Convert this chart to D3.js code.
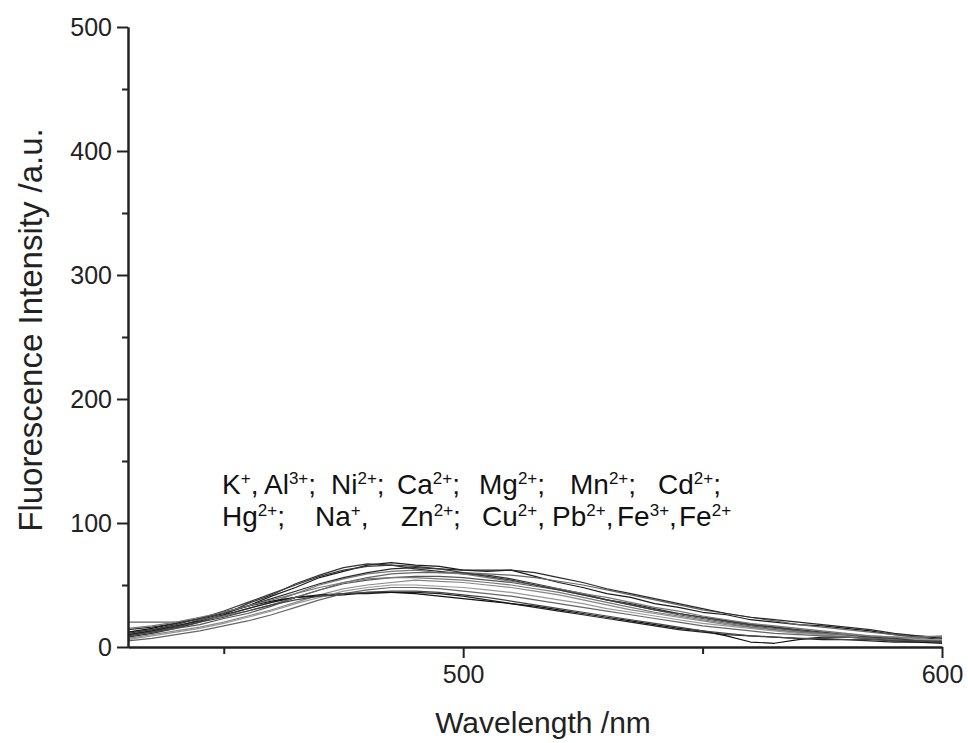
<!DOCTYPE html>
<html>
<head>
<meta charset="utf-8">
<script src="https://cdn.jsdelivr.net/npm/d3@7"></script>
<style>
  body { margin: 0; background: #fff; }
  text { font-family: "Liberation Sans", Arial, sans-serif; }
</style>
</head>
<body>
<div id="vis"></div>
<script>
const width = 968;
const height = 743;
const margin = { top: 27, right: 26, bottom: 96, left: 128 };

// wavelength sampling (nm)
const wavelengths = [430, 435, 440, 445, 450, 455, 460, 465, 470, 475, 480, 485,
    490, 495, 500, 505, 510, 515, 520, 525, 530, 535, 540, 545, 550, 555, 560,
    565, 570, 575, 580, 585, 590, 595, 600];

// one emission spectrum per metal ion
const spectra = [
    { ion: "K+",   color: "#1a1a1a", values: [10, 13, 16, 22, 27, 33, 41, 48, 56, 61, 66, 68, 66, 65, 62, 61, 62, 57, 52, 48, 43, 40, 35, 32, 28, 26, 22, 20, 18, 17, 15, 13, 10, 8, 6] },
    { ion: "Al3+", color: "#333",    values: [8, 11, 15, 20, 26, 35, 42, 51, 58, 64, 67, 66, 63, 61, 59, 58, 55, 51, 47, 43, 38, 35, 31, 27, 24, 21, 18, 16, 13, 11, 9, 8, 6, 5, 4] },
    { ion: "Ni2+", color: "#777",    values: [12, 14, 17, 21, 25, 31, 36, 43, 50, 55, 59, 61, 62, 60, 59, 56, 53, 50, 47, 43, 40, 36, 32, 29, 25, 22, 19, 17, 15, 13, 11, 9, 8, 7, 8] },
    { ion: "Ca2+", color: "#555",    values: [9, 12, 15, 18, 23, 27, 33, 40, 46, 51, 54, 56, 57, 57, 56, 54, 52, 49, 46, 42, 38, 34, 30, 26, 23, 20, 17, 15, 13, 11, 9, 8, 7, 6, 5] },
    { ion: "Mg2+", color: "#888",    values: [7, 10, 13, 16, 20, 25, 30, 36, 42, 47, 50, 52, 54, 53, 52, 50, 48, 45, 42, 38, 34, 30, 27, 24, 21, 18, 16, 14, 12, 10, 8, 7, 6, 5, 4] },
    { ion: "Mn2+", color: "#222",    values: [10, 13, 17, 21, 26, 31, 36, 40, 42, 43, 43, 44, 44, 43, 41, 38, 35, 32, 29, 26, 23, 20, 17, 14, 12, 10, 9, 8, 7, 6, 6, 5, 4, 4, 3] },
    { ion: "Cd2+", color: "#111",    values: [12, 15, 19, 23, 28, 33, 37, 40, 41, 42, 44, 44, 43, 41, 39, 37, 35, 33, 30, 27, 24, 21, 18, 15, 13, 9, 4, 3, 6, 8, 8, 7, 5, 4, 4] },
    { ion: "Hg2+", color: "#666",    values: [20, 20, 20, 22, 25, 29, 34, 40, 46, 52, 56, 59, 60, 60, 60, 59, 58, 56, 53, 50, 46, 42, 38, 34, 30, 27, 24, 21, 18, 16, 14, 12, 10, 9, 8] },
    { ion: "Na+",  color: "#2a2a2a", values: [14, 16, 19, 23, 28, 33, 39, 45, 51, 56, 60, 63, 64, 63, 62, 62, 62, 60, 56, 52, 47, 43, 39, 35, 31, 27, 24, 22, 20, 18, 16, 14, 11, 9, 7] },
    { ion: "Zn2+", color: "#999",    values: [6, 9, 12, 15, 19, 24, 29, 35, 40, 45, 48, 50, 50, 49, 48, 46, 44, 41, 38, 35, 31, 28, 25, 22, 19, 17, 15, 13, 11, 10, 9, 8, 7, 6, 6] },
    { ion: "Cu2+", color: "#666",    values: [5, 7, 10, 13, 17, 21, 26, 32, 38, 43, 46, 48, 48, 47, 45, 43, 41, 38, 35, 32, 29, 26, 23, 20, 17, 15, 13, 11, 10, 9, 8, 7, 6, 5, 5] },
    { ion: "Pb2+", color: "#3a3a3a", values: [11, 14, 18, 23, 29, 36, 43, 50, 57, 62, 65, 66, 65, 63, 60, 57, 54, 50, 46, 42, 38, 34, 30, 27, 24, 21, 18, 16, 14, 12, 10, 8, 7, 5, 4] },
    { ion: "Fe3+", color: "#777",    values: [15, 17, 20, 24, 28, 33, 38, 43, 48, 52, 55, 56, 56, 55, 54, 52, 50, 47, 44, 40, 36, 32, 28, 25, 22, 19, 16, 14, 12, 11, 10, 9, 8, 8, 9] },
    { ion: "Fe2+", color: "#444",    values: [9, 12, 16, 20, 24, 29, 34, 38, 41, 43, 44, 45, 45, 44, 42, 40, 37, 34, 31, 28, 25, 22, 19, 16, 13, 11, 9, 8, 7, 7, 6, 6, 5, 5, 4] }
];

const xMajor = [500, 600];
const xMinor = [450, 550];
const yMajor = [0, 100, 200, 300, 400, 500];
const yMinor = [50, 150, 250, 350, 450];

// annotation rows: [ion, charge, separator]
const ionRow1 = [["K", "+", ","], ["Al", "3+", ";"], ["Ni", "2+", ";"], ["Ca", "2+", ";"], ["Mg", "2+", ";"], ["Mn", "2+", ";"], ["Cd", "2+", ";"]];
const ionRow2 = [["Hg", "2+", ";"], ["Na", "+", ","], ["Zn", "2+", ";"], ["Cu", "2+", ","], ["Pb", "2+", ","], ["Fe", "3+", ","], ["Fe", "2+", ""]];
const ionRow1X = [222, 264, 331, 397, 479, 570, 658];
const ionRow2X = [222, 315, 401, 482, 552, 617, 679];

const x = d3.scaleLinear().domain([430, 600]).range([margin.left, width - margin.right]);
const y = d3.scaleLinear().domain([0, 500]).range([height - margin.bottom, margin.top]);

const svg = d3.select("#vis")
    .append("svg")
    .attr("width", width)
    .attr("height", height);

// spectra
const line = d3.line()
    .x((d, i) => x(wavelengths[i]))
    .y(d => y(d));

svg.append("g")
    .selectAll("path")
    .data(spectra)
    .enter().append("path")
    .attr("d", d => line(d.values))
    .attr("fill", "none")
    .attr("stroke", d => d.color)
    .attr("stroke-width", 1.2)
    .attr("stroke-linejoin", "round");

// axes
function styleAxis(g) {
    g.selectAll("path, line").attr("stroke", "#222").attr("stroke-width", 2);
    g.selectAll("text").attr("fill", "#222").style("font-size", "25px")
        .style("font-family", "'Liberation Sans', Arial, sans-serif");
}

svg.append("g")
    .attr("transform", `translate(0,${y(0)})`)
    .call(d3.axisBottom(x).tickValues(xMajor).tickSize(11).tickSizeOuter(0).tickPadding(7))
    .call(styleAxis);

svg.append("g")
    .attr("transform", `translate(0,${y(0)})`)
    .call(d3.axisBottom(x).tickValues(xMinor).tickSize(7).tickFormat("").tickSizeOuter(0))
    .call(styleAxis);

svg.append("g")
    .attr("transform", `translate(${x(430)},0)`)
    .call(d3.axisLeft(y).tickValues(yMajor).tickSize(11).tickSizeOuter(0).tickPadding(5))
    .call(styleAxis);

svg.append("g")
    .attr("transform", `translate(${x(430)},0)`)
    .call(d3.axisLeft(y).tickValues(yMinor).tickSize(6).tickFormat("").tickSizeOuter(0))
    .call(styleAxis);

// axis titles
svg.append("text")
    .attr("x", 543)
    .attr("y", 733)
    .attr("text-anchor", "middle")
    .attr("fill", "#222")
    .style("font-size", "30px")
    .text("Wavelength /nm");

svg.append("text")
    .attr("transform", "translate(42,330) rotate(-90)")
    .attr("text-anchor", "middle")
    .attr("fill", "#222")
    .style("font-size", "33px")
    .text("Fluorescence Intensity /a.u.");

// ion annotation
function ionLine(row, xs, baseline) {
    row.forEach((d, i) => {
        const t = svg.append("text")
            .attr("x", xs[i])
            .attr("y", baseline)
            .attr("fill", "#111")
            .style("font-size", "28px");
        t.append("tspan").text(d[0]);
        t.append("tspan").attr("dy", -10).style("font-size", "17px").text(d[1]);
        t.append("tspan").attr("dy", 10).text(d[2]);
    });
}
ionLine(ionRow1, ionRow1X, 494);
ionLine(ionRow2, ionRow2X, 526);
</script>
</body>
</html>
